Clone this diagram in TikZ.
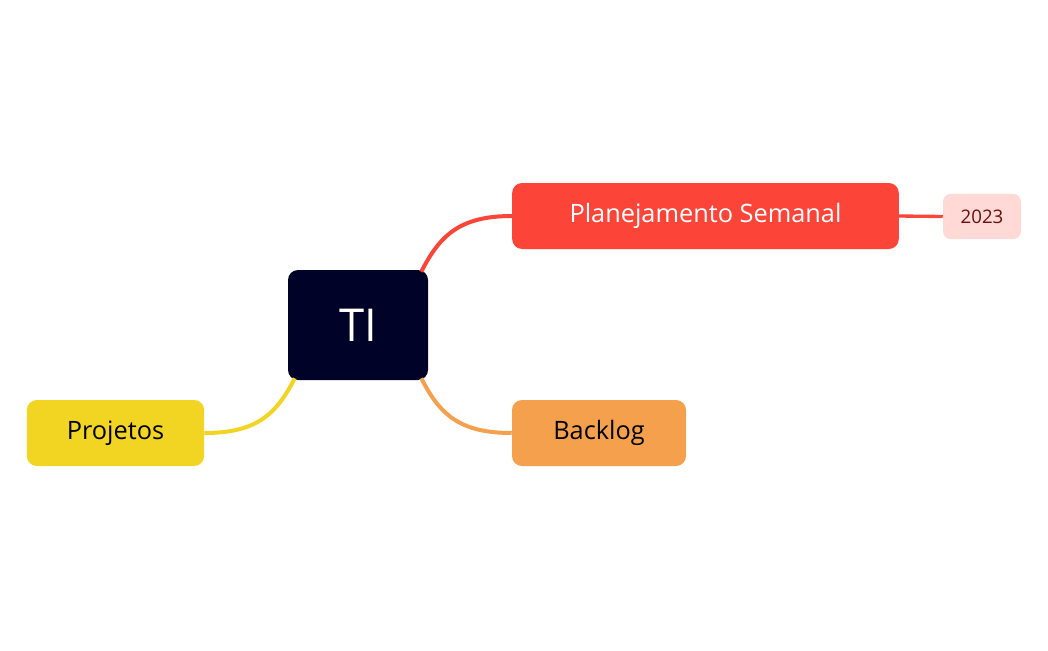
\documentclass[tikz,border=0pt]{standalone}
\usepackage{fontspec}
\setmainfont{Open Sans}
\definecolor{navy}{HTML}{000228}
\definecolor{rd}{HTML}{FC4438}
\definecolor{pk}{HTML}{FFD9D6}
\definecolor{pktxt}{HTML}{6B0F0F}
\definecolor{org}{HTML}{F5A04C}
\definecolor{yel}{HTML}{F2D422}
\tikzset{box/.style={rounded corners=7.5pt,inner sep=0pt,anchor=center},
 link/.style={line width=3pt}}
\begin{document}
\begin{tikzpicture}[x=0.75pt,y=-0.75pt]
\useasboundingbox (0,0) rectangle (1048,650);
\node[box,fill=navy,text=white,minimum width=105pt,minimum height=82.5pt,font=\fontsize{34}{40}\selectfont] (ti) at (358,325) {TI};
\node[box,fill=rd,text=white,minimum width=290pt,minimum height=49.5pt,font=\fontsize{19}{22}\selectfont] (pl) at (705.5,216) {Planejamento Semanal};
\node[box,fill=pk,text=pktxt,rounded corners=6pt,minimum width=58.5pt,minimum height=34pt,font=\fontsize{14}{16}\selectfont] (y) at (982,216.5) {2023};
\node[box,fill=org,text=black,minimum width=130.5pt,minimum height=49.5pt,font=\fontsize{19}{22}\selectfont] (bl) at (599,433) {Backlog};
\node[box,fill=yel,text=black,minimum width=133pt,minimum height=49.5pt,font=\fontsize{19}{22}\selectfont] (pj) at (115.5,433) {Projetos};
\begin{scope}[on background layer/.style={}]
\draw[link,rd] (ti.north east)++(-7,2) .. controls (440,235) and (460,216) .. (pl.west);
\draw[link,org] (ti.south east)++(-7,-2) .. controls (440,415) and (460,433) .. (bl.west);
\draw[link,yel] (ti.south west)++(7,-2) .. controls (276,415) and (256,433) .. (pj.east);
\draw[line width=2.5pt,rd] (pl.east) -- (y.west);
\end{scope}
\end{tikzpicture}
\end{document}
